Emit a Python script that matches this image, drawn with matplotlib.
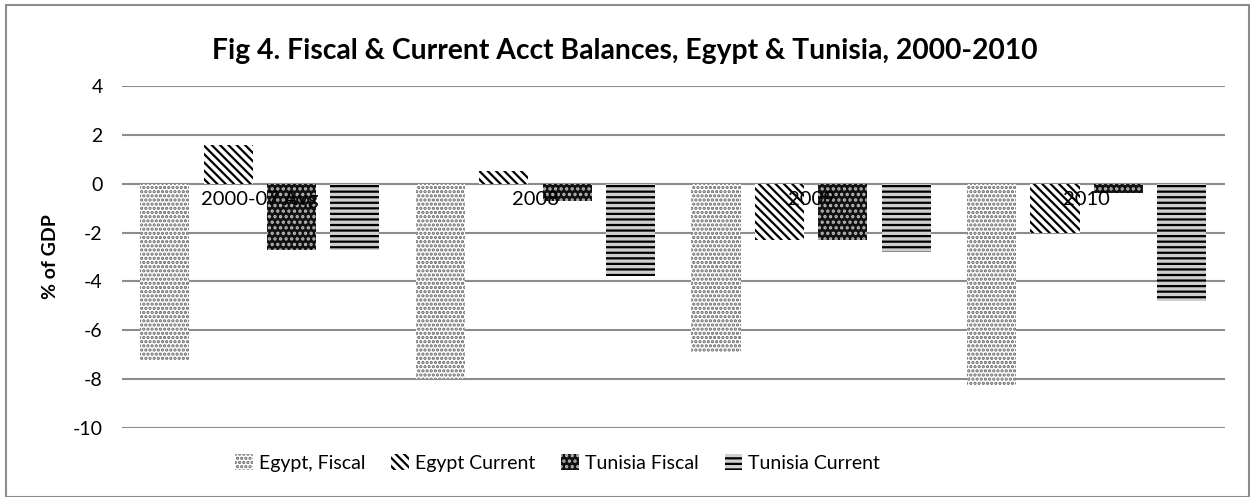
import matplotlib

matplotlib.use("Agg")
import matplotlib.pyplot as plt
import numpy as np
from matplotlib.patches import Rectangle

categories = ["2000-07 Avg", "2008", "2009", "2010"]
egypt_fiscal = [-7.2, -8.0, -6.9, -8.3]
egypt_current = [1.6, 0.5, -2.3, -2.0]
tunisia_fiscal = [-2.7, -0.7, -2.3, -0.4]
tunisia_current = [-2.7, -3.8, -2.8, -4.8]
series_names = ["Egypt, Fiscal", "Egypt Current", "Tunisia Fiscal", "Tunisia Current"]

plt.rcParams["font.family"] = ["Lato", "DejaVu Sans"]
plt.rcParams["axes.unicode_minus"] = False
plt.rcParams["hatch.linewidth"] = 1.6

fig = plt.figure(figsize=(12.5, 4.97), dpi=100)
ax = fig.add_axes([0.0976, 0.139, 0.882, 0.688])

# pattern fills roughly like the Excel ones
styles = [
    dict(facecolor="white", edgecolor="#666666", hatch="...."),
    dict(facecolor="white", edgecolor="black", hatch="\\\\\\\\"),
    dict(facecolor="#111111", edgecolor="#bbbbbb", hatch="..."),
    dict(facecolor="#cfcfcf", edgecolor="black", hatch="---"),
]

x = np.arange(len(categories))
pitch = 0.23
width = 0.178
all_series = [egypt_fiscal, egypt_current, tunisia_fiscal, tunisia_current]
handles = []
for i, (vals, name, st) in enumerate(zip(all_series, series_names, styles)):
    bars = ax.bar(x + (i - 1.5) * pitch, vals, width, linewidth=0, label=name,
                  zorder=3, **st)
    handles.append(bars)

ax.set_xlim(-0.5, 3.5)
ax.set_ylim(-10, 4)
ax.set_yticks(np.arange(-10, 5, 2))
ax.yaxis.grid(True, color="#8c8c8c", linewidth=1.5)
ax.set_axisbelow(True)
ax.xaxis.set_zorder(5)  # category labels sit on top of the bars, as in Excel
for s in ["top", "right", "left"]:
    ax.spines[s].set_visible(False)
ax.spines["bottom"].set_position(("data", 0))
ax.spines["bottom"].set_visible(False)
ax.set_xticks(x)
ax.set_xticklabels(categories, fontsize=14.5)
ax.tick_params(axis="x", length=0, pad=5)
ax.tick_params(axis="y", length=0, pad=14, labelsize=14)
ax.set_ylabel("% of GDP", fontsize=14, fontweight="bold", labelpad=10)

fig.text(0.5, 0.897, "Fig 4. Fiscal & Current Acct Balances, Egypt & Tunisia, 2000-2010",
         ha="center", va="center", fontsize=20.3, fontweight="bold")

fig.legend(handles=handles, loc="center", bbox_to_anchor=(0.446, 0.068), ncol=4,
           frameon=False, fontsize=14, handlelength=0.9, handleheight=0.9,
           handletextpad=0.3, columnspacing=1.35)

fig.patches.append(Rectangle((0.005, 0.0), 0.994, 0.99, transform=fig.transFigure,
                             fill=False, edgecolor="#8c8c8c", linewidth=1.5))

fig.savefig("out.png", dpi=100)
